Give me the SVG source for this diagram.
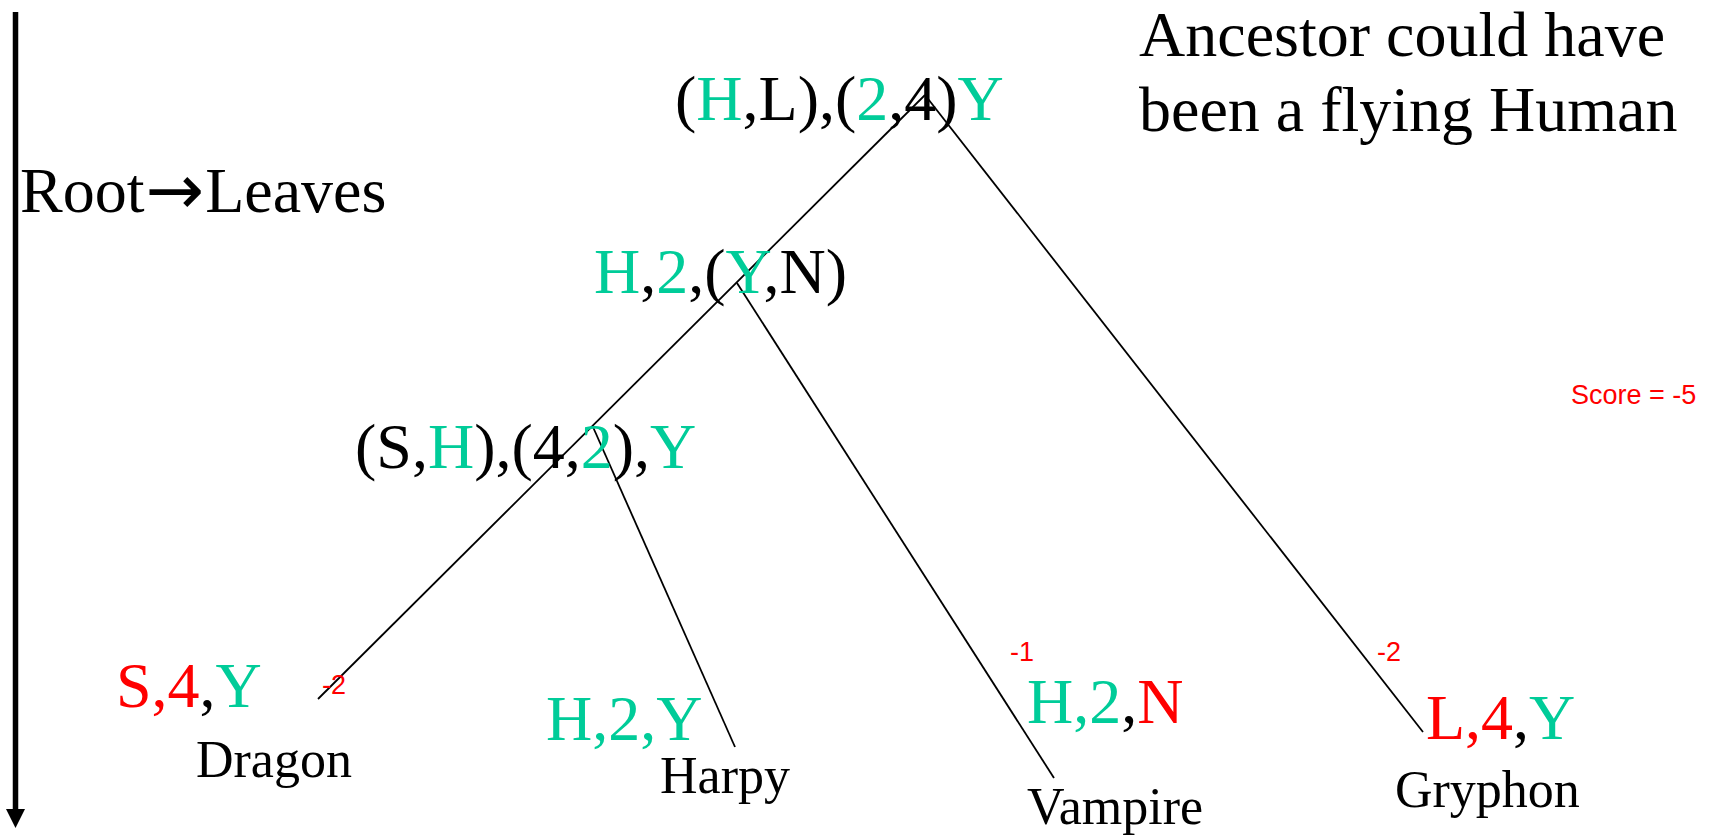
<svg xmlns="http://www.w3.org/2000/svg" width="1734" height="838" viewBox="0 0 1734 838">
  <style>
    .big { font-family: "Liberation Serif", "Times New Roman", serif; font-size: 64px; fill: #000; }
    .name { font-family: "Liberation Serif", "Times New Roman", serif; font-size: 52px; fill: #000; }
    .cost { font-family: "Liberation Sans", Arial, sans-serif; font-size: 27px; fill: #FF0000; }
    .arrow { font-family: "DejaVu Sans", sans-serif; font-size: 70px; }
    .g { fill: #00CC99; }
    .r { fill: #FF0000; }
    .edge { stroke: #000; stroke-width: 1.8; fill: none; }
  </style>
  <rect width="1734" height="838" fill="#fff"/>

  <!-- time axis: root to leaves -->
  <g id="axis">
    <line x1="15.5" y1="12" x2="15.5" y2="812" stroke="#000" stroke-width="5.5"/>
    <polygon points="6,809 25,809 15.5,828" fill="#000"/>
    <text class="big" x="20" y="212">Root<tspan class="arrow" dx="1" dy="2">→</tspan><tspan dx="1" dy="-2">Leaves</tspan></text>
  </g>

  <!-- tree edges -->
  <g id="connectors">
    <line class="edge" x1="925" y1="95" x2="318" y2="699"/>
    <line class="edge" x1="925" y1="95" x2="1423" y2="732"/>
    <line class="edge" x1="737" y1="283" x2="1054" y2="778"/>
    <line class="edge" x1="593" y1="427" x2="735" y2="747"/>
  </g>

  <g id="root">
    <text class="big" x="675" y="120">(<tspan class="g">H</tspan>,L),(<tspan class="g">2</tspan>,4)<tspan class="g">Y</tspan></text>
  </g>

  <g id="node-upper">
    <text class="big" x="594" y="293"><tspan class="g">H</tspan>,<tspan class="g">2</tspan>,(<tspan class="g">Y</tspan>,N)</text>
  </g>

  <g id="node-lower">
    <text class="big" x="355" y="468">(S,<tspan class="g">H</tspan>),(4,<tspan class="g">2</tspan>),<tspan class="g">Y</tspan></text>
  </g>

  <g id="dragon">
    <text class="big" x="116" y="707"><tspan class="r">S,4</tspan>,<tspan class="g">Y</tspan></text>
    <text class="cost" x="322" y="694" font-size="28">-2</text>
    <text class="name" x="196" y="777">Dragon</text>
  </g>

  <g id="harpy">
    <text class="big g" x="546" y="740">H,2,Y</text>
    <text class="name" x="660" y="793">Harpy</text>
  </g>

  <g id="vampire">
    <text class="cost" x="1010" y="661">-1</text>
    <text class="big" x="1027" y="723"><tspan class="g">H,2</tspan>,<tspan class="r">N</tspan></text>
    <text class="name" x="1027" y="824">Vampire</text>
  </g>

  <g id="gryphon">
    <text class="cost" x="1377" y="661">-2</text>
    <text class="big" x="1426" y="739"><tspan class="r">L,4</tspan>,<tspan class="g">Y</tspan></text>
    <text class="name" x="1395" y="807">Gryphon</text>
  </g>

  <g id="note">
    <text class="big" x="1139" y="56">Ancestor could have</text>
    <text class="big" x="1139" y="131">been a flying Human</text>
  </g>

  <g id="score">
    <text class="cost" x="1571" y="404" font-size="30">Score = -5</text>
  </g>
</svg>
